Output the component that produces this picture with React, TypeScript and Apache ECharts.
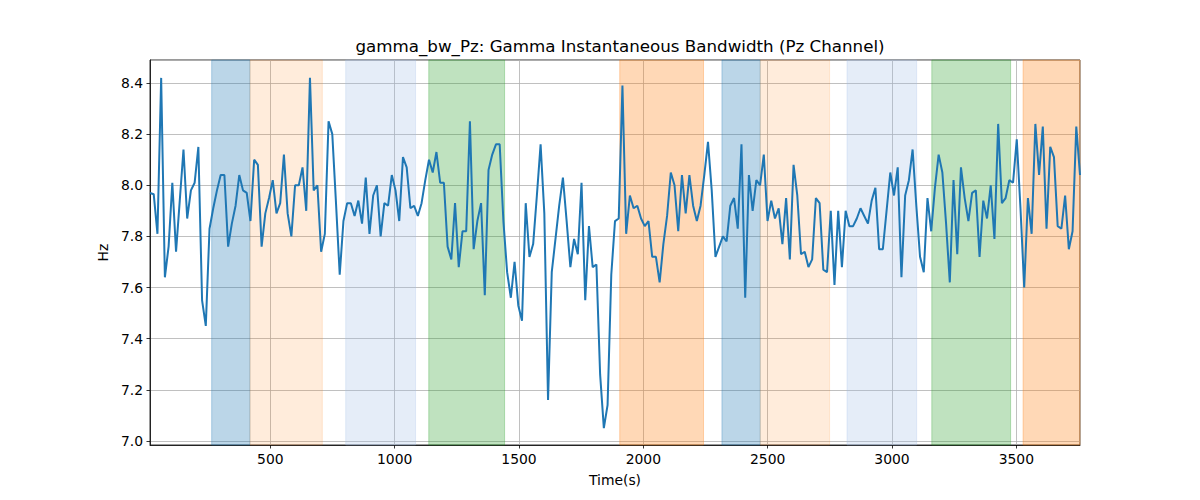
import React, { useEffect, useRef } from "react";
import * as echarts from "echarts";

const TITLE = "gamma_bw_Pz: Gamma Instantaneous Bandwidth (Pz Channel)";
const X_NAME = "Time(s)";
const Y_NAME = "Hz";

const T_START = 16;
const T_STEP = 14.96;

const bandwidth = [
  7.97, 7.965, 7.81, 8.42, 7.64, 7.76, 8.01, 7.74, 7.94, 8.14, 7.87, 7.98, 8.01, 8.15, 7.55, 7.45, 7.83, 7.91, 7.98, 8.04,
  8.04, 7.76, 7.85, 7.92, 8.04, 7.98, 7.97, 7.86, 8.10, 8.08, 7.76, 7.89, 7.95, 8.02, 7.89, 7.93, 8.12, 7.89, 7.80, 8.00,
  8.00, 8.07, 7.90,
  8.42, 7.98, 8.00, 7.74, 7.81, 8.25, 8.20, 7.93, 7.65, 7.86, 7.93, 7.93, 7.88, 7.94, 7.85, 8.03, 7.81, 7.96, 8.00, 7.80,
  7.93, 7.92, 8.04, 7.98, 7.86, 8.11, 8.07, 7.91, 7.92, 7.88, 7.93, 8.02, 8.10, 8.05, 8.13, 8.01, 8.01, 7.76, 7.71, 7.93,
  7.68, 7.82,
  7.82, 8.25, 7.75, 7.86, 7.93, 7.57, 8.06, 8.12, 8.16, 8.16, 7.86, 7.66, 7.56, 7.70, 7.53, 7.47, 7.93, 7.72, 7.77, 7.96,
  8.16, 7.89, 7.16, 7.66, 7.79, 7.92, 8.03, 7.86, 7.68, 7.79, 7.73, 8.01, 7.55, 7.84, 7.68, 7.69, 7.26, 7.05, 7.14, 7.65,
  7.86, 7.87,
  8.39, 7.81, 7.96, 7.91, 7.92, 7.87, 7.84, 7.86, 7.72, 7.72, 7.62, 7.77, 7.88, 8.05, 8.00, 7.82, 8.04, 7.89, 8.04, 7.92,
  7.86, 7.92, 8.04, 8.17, 7.98, 7.72, 7.76, 7.80, 7.78, 7.92, 7.95, 7.83, 8.16, 7.56, 8.04, 7.90, 8.02, 8.00, 8.12, 7.86,
  7.94,
  7.87, 7.91, 7.77, 7.95, 7.71, 8.08, 7.96, 7.73, 7.74, 7.68, 7.71, 7.95, 7.93, 7.67, 7.66, 7.90, 7.61, 7.90, 7.68, 7.90,
  7.84, 7.84, 7.87, 7.91, 7.88, 7.85, 7.94, 7.99, 7.75, 7.75, 7.90, 8.05, 7.96, 8.07, 7.64, 7.96, 8.02, 8.14, 7.92, 7.72,
  7.66, 7.95,
  7.82, 7.99, 8.12, 8.05, 7.85, 7.62, 8.02, 7.73, 8.07, 7.95, 7.86, 7.97, 7.98, 7.72, 7.94, 7.87, 8.00, 7.79, 8.24, 7.93,
  7.95, 8.02, 8.01, 8.18, 7.91, 7.60, 7.95, 7.81, 8.24, 8.04, 8.23, 7.83, 8.15, 8.11, 7.84, 7.83, 7.96, 7.75, 7.82, 8.23,
  8.04,
];

const times = bandwidth.map((_, i) => Math.round((T_START + i * T_STEP) * 100) / 100);

const regionStarts = [264, 418, 803, 1137, 1905, 2316, 2470, 2819, 3160, 3527];
const regionEnds = [418, 709, 1084, 1442, 2242, 2470, 2749, 3099, 3477, 3756];
const regionColors = [
  "rgba(31,119,180,0.3)",
  "rgba(255,127,14,0.15)",
  "rgba(160,190,230,0.28)",
  "rgba(44,160,44,0.3)",
  "rgba(255,127,14,0.3)",
  "rgba(31,119,180,0.3)",
  "rgba(255,127,14,0.15)",
  "rgba(160,190,230,0.28)",
  "rgba(44,160,44,0.3)",
  "rgba(255,127,14,0.3)",
];

const X_MIN = 16;
const X_MAX = 3756;
const Y_MIN = 6.984;
const Y_MAX = 8.49;

const FONT = "DejaVu Sans";

export default function App() {
  const ref = useRef<HTMLDivElement>(null);

  useEffect(() => {
    document.body.style.margin = "0";
    if (!ref.current) return;
    const chart = echarts.init(ref.current, undefined, { renderer: "svg" });

    const lineData = times.map((t, i) => [t, bandwidth[i]]);
    const areas = regionStarts.map((s, i) => [
      {
        xAxis: s,
        itemStyle: {
          color: regionColors[i],
          borderColor: regionColors[i],
          borderWidth: 1,
        },
      },
      { xAxis: regionEnds[i] },
    ]);

    const axisCommon = {
      axisLine: { show: true, lineStyle: { color: "#000", width: 0.8 } },
      axisTick: { show: true, inside: false, length: 3.5, lineStyle: { color: "#000", width: 0.8 } },
      splitLine: { show: true, lineStyle: { color: "#b0b0b0", width: 0.8 } },
      axisLabel: {
        color: "#000",
        fontFamily: FONT,
        fontSize: 13.9,
        showMinLabel: false,
        showMaxLabel: false,
      },
      nameTextStyle: { color: "#000", fontFamily: FONT, fontSize: 13.9 },
    };

    chart.setOption({
      animation: false,
      title: {
        text: TITLE,
        left: 615,
        top: 32,
        textAlign: "center",
        textStyle: { color: "#000", fontFamily: FONT, fontSize: 16.7, fontWeight: "normal" },
      },
      grid: {
        left: 150,
        right: 120,
        top: 60,
        bottom: 55,
        show: true,
        borderColor: "#000",
        borderWidth: 0.8,
        backgroundColor: "transparent",
      },
      xAxis: {
        type: "value",
        min: X_MIN,
        max: X_MAX,
        splitNumber: 7,
        name: X_NAME,
        nameLocation: "middle",
        nameGap: 28,
        ...axisCommon,
        axisLabel: {
          ...axisCommon.axisLabel,
          margin: 7,
          formatter: (v: number) => String(Math.round(v)),
        },
      },
      yAxis: {
        type: "value",
        min: Y_MIN,
        max: Y_MAX,
        splitNumber: 7,
        name: Y_NAME,
        nameLocation: "middle",
        nameGap: 38,
        ...axisCommon,
        axisLabel: {
          ...axisCommon.axisLabel,
          margin: 7,
          formatter: (v: number) => v.toFixed(1),
        },
      },
      series: [
        {
          type: "line",
          data: [],
          z: 1,
          silent: true,
          markArea: { silent: true, data: areas },
        },
        {
          type: "line",
          data: lineData,
          z: 3,
          showSymbol: false,
          symbol: "none",
          lineStyle: { color: "#1f77b4", width: 2 },
          itemStyle: { color: "#1f77b4" },
        },
      ],
    });

    return () => chart.dispose();
  }, []);

  return <div ref={ref} style={{ width: 1200, height: 500 }} />;
}
